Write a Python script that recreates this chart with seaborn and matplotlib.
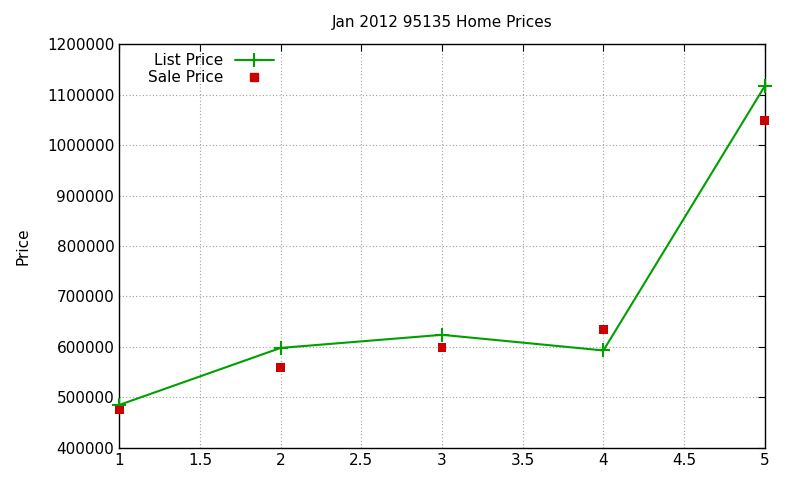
import matplotlib
matplotlib.use("Agg")
import matplotlib.pyplot as plt
from matplotlib.lines import Line2D
import seaborn as sns
import pandas as pd

months = [1, 2, 3, 4, 5]
list_price = [485000, 598000, 624000, 593000, 1117000]
sale_price = [475000, 559000, 599000, 635000, 1049000]

sns.set_style("white")
plt.rcParams['font.family'] = ['DejaVu Sans']
plt.rcParams['text.color'] = 'black'
plt.rcParams['xtick.color'] = 'black'
plt.rcParams['ytick.color'] = 'black'
plt.rcParams['axes.labelcolor'] = 'black'
fig = plt.figure(figsize=(8, 4.8), dpi=100)
ax = fig.add_axes([0.149, 0.067, 0.807, 0.841])
df = pd.DataFrame({"x": months, "list": list_price, "sale": sale_price})
sns.lineplot(data=df, x="x", y="list", ax=ax, color="#00a000", marker="+", markersize=10,
             markeredgewidth=1.5, markeredgecolor="#00a000", linewidth=1.5,
             clip_on=False, zorder=3)
sns.scatterplot(data=df, x="x", y="sale", ax=ax, color="#cc0000", marker="s", s=40,
                edgecolor="none", clip_on=False, zorder=4)
ax.set_xlim(1, 5)
ax.set_ylim(400000, 1200000)
ax.set_xticks([1, 1.5, 2, 2.5, 3, 3.5, 4, 4.5, 5])
ax.set_xticklabels(["1", "1.5", "2", "2.5", "3", "3.5", "4", "4.5", "5"])
ax.set_yticks(range(400000, 1200001, 100000))
ax.ticklabel_format(axis="y", style="plain")
ax.grid(True, color="#a0a0a0", linestyle=(0, (1, 2)), linewidth=0.8)
for s in ax.spines.values():
    s.set_color("black"); s.set_linewidth(1)
ax.tick_params(direction="in", length=5, labelsize=11, top=True, right=True)
ax.set_xlabel("")
ax.set_ylabel("Price", fontsize=11, labelpad=12)
ax.set_title("Jan 2012 95135 Home Prices", fontsize=11, pad=12)
handles = [
    Line2D([], [], color="#00a000", marker="+", markersize=10, markeredgewidth=1.5, linewidth=1.5),
    Line2D([], [], color="#cc0000", marker="s", markersize=6, linestyle="none"),
]
ax.legend(handles, ["List Price", "Sale Price"], loc="upper left", bbox_to_anchor=(0.03, 1.0),
          frameon=False, markerfirst=False, fontsize=11, handlelength=2.5,
          borderaxespad=0.2, labelspacing=0.1)
fig.savefig("out.png", dpi=100)
